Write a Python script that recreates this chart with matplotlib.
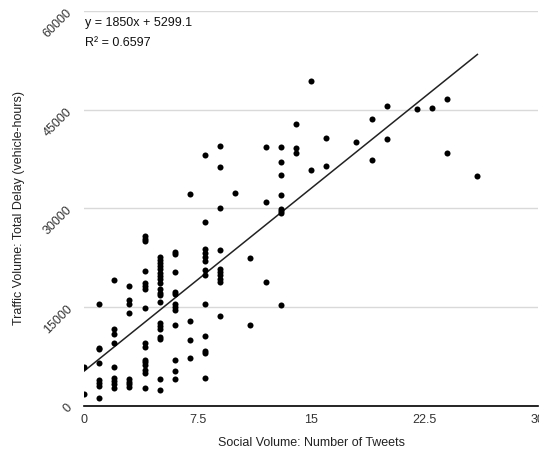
import numpy as np
import matplotlib
matplotlib.use('Agg')
import matplotlib.pyplot as plt

plt.rcParams['font.family'] = ['Liberation Sans', 'DejaVu Sans']

# number of tweets per observation and matching total delay (vehicle-hours)
tweets_by_x = {
    0: [5860, 1820],
    1: [15560, 8830, 8590, 6470, 3940, 3440, 3030, 1160],
    2: [19090, 11770, 10860, 9500, 5960, 4290, 3790, 3290, 2680],
    3: [18230, 16170, 15560, 14190, 4090, 3690, 3290, 2930],
    4: [25760, 25400, 25040, 20500, 18680, 18230, 17730, 14950, 9500, 8990,
        6970, 6620, 6210, 5450, 5050, 2780],
    5: [22620, 22220, 21770, 21260, 20760, 20260, 19740, 19240, 18740, 17730,
        17170, 16820, 15810, 12530, 12170, 11770, 10500, 10100, 4090, 2420],
    6: [23380, 23030, 20350, 17320, 16970, 15560, 15050, 14650, 12270, 6970,
        5350, 4090],
    7: [32230, 12920, 10000, 7320],
    8: [38180, 27920, 23890, 23230, 22620, 21970, 20600, 19850, 15560, 10600,
        8380, 7980, 4190],
    9: [39540, 36250, 30040, 23630, 20850, 20350, 19850, 19340, 18830, 13640],
    10: [32380],
    11: [22520, 12270],
    12: [39400, 31060, 18840],
    13: [39400, 37010, 35100, 32030, 29950, 29590, 29290, 15400],
    14: [42830, 39130, 38380],
    15: [49430, 35860],
    16: [40700, 36510],
    18: [40100],
    19: [43530, 37370],
    20: [45500, 40550],
    22: [45100],
    23: [45200],
    24: [46620, 38430],
    26: [34900],
}

tweets = []
delay = []
for k, vals in tweets_by_x.items():
    tweets += [k] * len(vals)
    delay += vals
tweets = np.array(tweets)
delay = np.array(delay)

# trendline as reported on the chart
slope = 1850
intercept = 5299.1
r2 = 0.6597
trend_x = np.array([0, 26])

x_ticks = [0, 7.5, 15, 22.5, 30]
y_ticks = [0, 15000, 30000, 45000, 60000]

fig = plt.figure(figsize=(5.39, 4.5), dpi=100)
ax = fig.add_axes([0.156, 0.0978, 0.842, 0.8778])

ax.scatter(tweets, delay, s=19, color='black', zorder=3, linewidths=0)
ax.plot(trend_x, slope * trend_x + intercept, color='#222222', lw=1.1, zorder=2)

ax.set_xlim(0, 30)
ax.set_ylim(0, 60000)
ax.set_xticks(x_ticks)
ax.set_xticklabels(['0', '7.5', '15', '22.5', '30'])
ax.set_yticks(y_ticks)
ax.set_yticklabels([str(v) for v in y_ticks])

for s in ['top', 'right', 'left']:
    ax.spines[s].set_visible(False)
ax.spines['bottom'].set_color('black')
ax.spines['bottom'].set_linewidth(1.2)
ax.yaxis.grid(True, color='#d9d9d9', lw=1)
ax.set_axisbelow(True)

ax.tick_params(axis='both', length=0, labelsize=9, colors='#333333')
ax.tick_params(axis='y', pad=10)
ax.tick_params(axis='x', pad=6)
plt.setp(ax.get_yticklabels(), rotation=45, ha='right', va='center',
         rotation_mode='anchor')

ax.set_xlabel('Social Volume: Number of Tweets', fontsize=9, color='#222222',
              labelpad=8)
ax.set_ylabel('Traffic Volume: Total Delay (vehicle-hours)', fontsize=9,
              color='#222222', labelpad=12)

ax.text(0.003, 0.985, 'y = 1850x + 5299.1', transform=ax.transAxes,
        fontsize=9, va='top', ha='left', color='#111111')
ax.text(0.003, 0.935, 'R² = 0.6597', transform=ax.transAxes,
        fontsize=9, va='top', ha='left', color='#111111')

fig.savefig('out.png', dpi=100)
